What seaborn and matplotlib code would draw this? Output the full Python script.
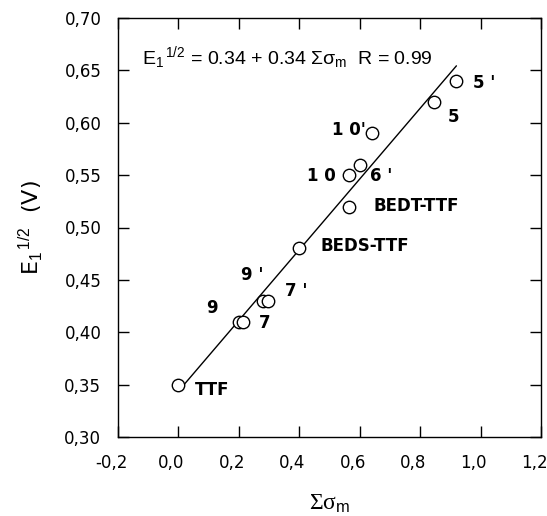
import numpy as np
import pandas as pd
import matplotlib
matplotlib.use("Agg")
import matplotlib.pyplot as plt
import matplotlib.transforms as mtransforms
import seaborn as sns

# 데이터
names = ["TTF", "9", "7", "9 '", "7 '", "BEDS-TTF", "BEDT-TTF", "1 0", "6 '", "1 0'", "5", "5 '"]
sigma_m = [0.00, 0.20, 0.215, 0.28, 0.295, 0.40, 0.565, 0.565, 0.60, 0.64, 0.845, 0.92]
e_half = [0.35, 0.41, 0.41, 0.43, 0.43, 0.48, 0.52, 0.55, 0.56, 0.59, 0.62, 0.64]

x_ticks = [-0.2, 0.0, 0.2, 0.4, 0.6, 0.8, 1.0, 1.2]
x_ticklabels = ["-0,2", "0,0", "0,2", "0,4", "0,6", "0,8", "1,0", "1,2"]
y_ticks = [0.30, 0.35, 0.40, 0.45, 0.50, 0.55, 0.60, 0.65, 0.70]
y_ticklabels = ["0,30", "0,35", "0,40", "0,45", "0,50", "0,55", "0,60", "0,65", "0,70"]

df = pd.DataFrame({"name": names, "sigma": sigma_m, "E": e_half})

# 라벨 위치 (점 기준 픽셀 오프셋, 정렬)
label_pos = {
    "TTF": (16, -5, "left"),
    "9": (-27, 14, "center"),
    "7": (15, -1, "left"),
    "9 '": (-11, 26, "center"),
    "7 '": (17, 10, "left"),
    "BEDS-TTF": (21, 2, "left"),
    "BEDT-TTF": (24, 1, "left"),
    "1 0": (-13, -1, "right"),
    "6 '": (10, -11, "left"),
    "1 0'": (-6, 3, "right"),
    "5": (14, -15, "left"),
    "5 '": (17, -2, "left"),
}

sns.set_style("ticks")
plt.rcParams["font.family"] = ["DejaVu Sans"]
plt.rcParams["text.color"] = "black"
plt.rcParams["axes.labelcolor"] = "black"
plt.rcParams["mathtext.fontset"] = "custom"
plt.rcParams["mathtext.rm"] = "Liberation Sans"
plt.rcParams["mathtext.it"] = "Liberation Sans:italic"
plt.rcParams["mathtext.bf"] = "Liberation Sans:bold"

fig = plt.figure(figsize=(5.47, 5.16), dpi=100)
ax = fig.add_axes([118 / 547, 1 - 437 / 516, 423 / 547, 419 / 516])

# 회귀선
sns.regplot(data=df, x="sigma", y="E", ax=ax, scatter=False, ci=None,
            line_kws={"color": "black", "lw": 1.0})
# 점 (빈 원)
ax.scatter(df["sigma"], df["E"], s=80, facecolors="white", edgecolors="black",
           linewidths=1.0, zorder=3)

for _, row in df.iterrows():
    dx, dy, ha = label_pos[row["name"]]
    ax.annotate(row["name"], (row["sigma"], row["E"]), xytext=(dx, dy),
                textcoords="offset pixels", ha=ha, va="center",
                fontsize=12, fontweight="bold", color="black")

ax.text(0.057, 0.906,
        r"E$_\mathrm{1}{}^{\,\mathrm{1/2}}$ = 0.34 + 0.34 Σσ$_\mathrm{m}$  R = 0.99",
        transform=ax.transAxes, fontsize=14, family="Liberation Sans",
        va="center", ha="left")

ax.set_xlim(-0.2, 1.2)
ax.set_ylim(0.30, 0.70)
ax.set_xticks(x_ticks)
ax.set_xticklabels(x_ticklabels)
ax.set_yticks(y_ticks)
ax.set_yticklabels(y_ticklabels)
ax.tick_params(direction="in", length=8, width=1, top=True, right=True,
               labelsize=12, pad=12, colors="black")

# x 눈금 라벨 약간 왼쪽으로
shift = mtransforms.ScaledTranslation(-7 / 100, 0, fig.dpi_scale_trans)
for lab in ax.get_xticklabels():
    lab.set_transform(lab.get_transform() + shift)

for sp in ax.spines.values():
    sp.set_visible(True)
    sp.set_color("black")
    sp.set_linewidth(1.0)

ax.set_xlabel("Σσ$_\\mathrm{m}$", fontsize=17, family="Liberation Serif", labelpad=15)
ax.set_ylabel(r"E$_\mathrm{1}{}^{\,\mathrm{1/2}}$  (V)", fontsize=16, labelpad=14)

fig.savefig("out.png", dpi=100)
